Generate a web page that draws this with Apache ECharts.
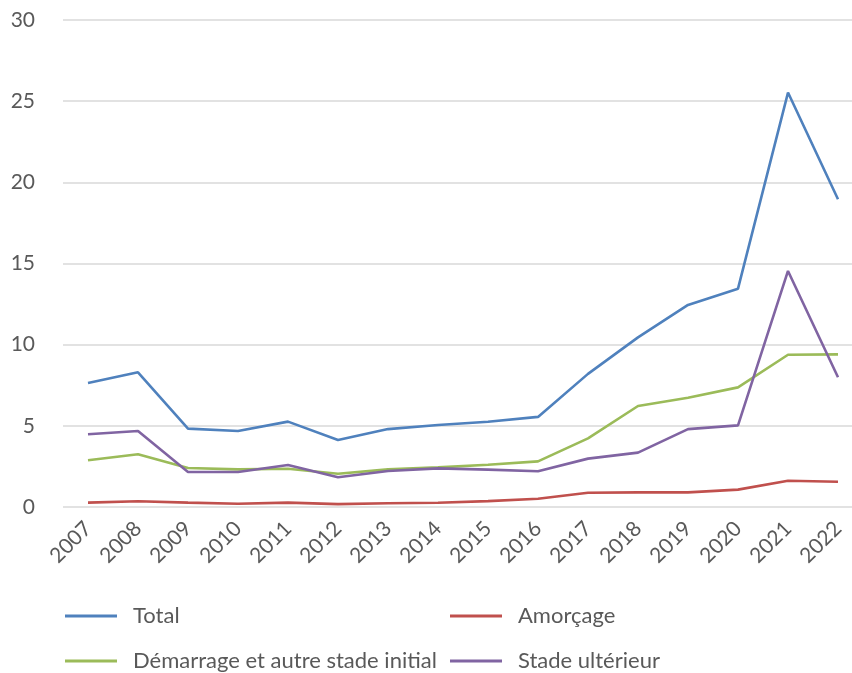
<!DOCTYPE html>
<html>
<head>
<meta charset="utf-8">
<script src="https://cdn.jsdelivr.net/npm/echarts@6/dist/echarts.min.js"></script>
<style>
  html, body { margin: 0; padding: 0; background: #fff; }
  #chart { width: 852px; height: 673px; }
</style>
</head>
<body>
<div id="chart"></div>
<script>
// années
var years = ['2007', '2008', '2009', '2010', '2011', '2012', '2013', '2014',
  '2015', '2016', '2017', '2018', '2019', '2020', '2021', '2022'];

var total = [7.64, 8.3, 4.83, 4.68, 5.26, 4.13, 4.8, 5.05, 5.25, 5.55, 8.2, 10.45, 12.45, 13.45, 25.53, 18.96];
var amorcage = [0.27, 0.35, 0.27, 0.2, 0.27, 0.18, 0.23, 0.26, 0.36, 0.51, 0.88, 0.9, 0.9, 1.07, 1.62, 1.56];
var demarrage = [2.88, 3.25, 2.4, 2.32, 2.36, 2.05, 2.32, 2.44, 2.6, 2.81, 4.23, 6.22, 6.73, 7.37, 9.38, 9.4];
var ulterieur = [4.48, 4.68, 2.16, 2.16, 2.59, 1.83, 2.22, 2.38, 2.3, 2.2, 2.98, 3.35, 4.8, 5.03, 14.54, 7.99];

var yTicks = [0, 5, 10, 15, 20, 25, 30];

var FONT = 'Lato';
var chart = echarts.init(document.getElementById('chart'));

function leg(name, left, top) {
  return {
    data: [name],
    left: left,
    top: top,
    padding: 0,
    itemWidth: 52,
    itemHeight: 3,
    icon: 'rect',
    textStyle: { fontFamily: FONT, fontSize: 22, color: '#595959', padding: [0, 0, 0, 11] }
  };
}

function serie(name, data, color) {
  return {
    name: name,
    type: 'line',
    data: data,
    symbol: 'none',
    lineStyle: { width: 2.6, color: color },
    itemStyle: { color: color }
  };
}

var option = {
  animation: false,
  grid: { left: 63, top: 20, width: 800, height: 487, outerBoundsMode: 'none', containLabel: false },
  legend: [
    leg('Total', 65, 605),
    leg('Amorçage', 450, 605),
    leg('Démarrage et autre stade initial', 65, 650),
    leg('Stade ultérieur', 450, 650)
  ],
  xAxis: {
    type: 'category',
    data: years,
    boundaryGap: true,
    axisLine: { show: false },
    axisTick: { show: false },
    axisLabel: { rotate: 45, fontFamily: FONT, fontSize: 21, color: '#595959', margin: 18, interval: 0 }
  },
  yAxis: {
    type: 'value',
    min: yTicks[0],
    max: yTicks[yTicks.length - 1],
    interval: 5,
    axisLabel: { fontFamily: FONT, fontSize: 21, color: '#595959', margin: 28 },
    splitLine: { lineStyle: { color: '#d9d9d9', width: 1.5 } }
  },
  series: [
    serie('Total', total, '#4f81bd'),
    serie('Amorçage', amorcage, '#c0504d'),
    serie('Démarrage et autre stade initial', demarrage, '#9bbb59'),
    serie('Stade ultérieur', ulterieur, '#8064a2')
  ]
};
chart.setOption(option);
</script>
</body>
</html>
